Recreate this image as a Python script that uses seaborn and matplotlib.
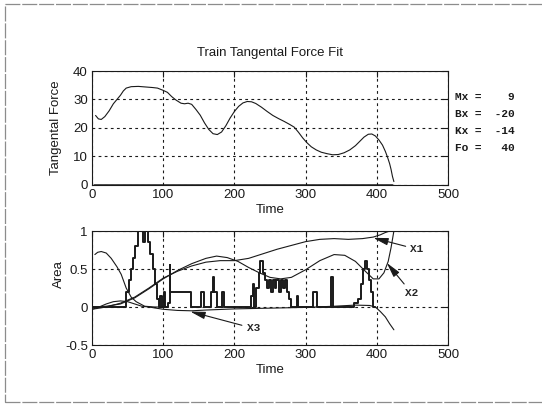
import matplotlib
matplotlib.use("Agg")
import matplotlib.pyplot as plt
import seaborn as sns
from matplotlib.patches import Rectangle

# ---------------- data ----------------
force_t = [5, 9, 13, 18, 24, 30, 36, 40, 44, 48, 55, 65, 75, 85, 92, 100, 106, 112, 118,
           125, 130, 135, 140, 146, 152, 158, 164, 170, 176, 182, 188, 194, 200, 206, 212,
           218, 224, 230, 238, 246, 254, 262, 270, 278, 284, 290, 296, 302, 308, 315, 322,
           330, 338, 346, 354, 362, 370, 376, 382, 388, 393, 398, 403, 408, 412, 415, 418,
           420, 422, 424]
force_v = [24.4, 23.2, 23.0, 24.0, 26.0, 28.5, 30.3, 31.5, 33.0, 34.0, 34.5, 34.6, 34.4,
           34.2, 34.0, 33.2, 32.5, 31.0, 29.8, 28.7, 28.5, 28.7, 28.3, 26.5, 24.5, 21.8,
           19.5, 18.0, 17.7, 18.6, 20.8, 23.5, 25.8, 27.6, 28.8, 29.3, 29.2, 28.6, 27.3,
           25.8, 24.4, 23.3, 22.3, 21.2, 20.3, 18.5, 16.5, 14.8, 13.4, 12.3, 11.5, 11.0,
           10.6, 10.7, 11.3, 12.3, 13.8, 15.3, 16.8, 17.8, 17.9, 17.2, 15.8, 14.0, 11.8,
           9.8, 7.5, 5.5, 3.0, 1.2]
force_base_t = [3, 422]
force_base_v = [0, 0]

x1_t = [0, 20, 40, 60, 80, 100, 120, 140, 160, 180, 200, 220, 240, 260, 280, 300, 320,
        340, 360, 380, 395, 405, 412, 418]
x1_v = [-0.03, 0.0, 0.05, 0.13, 0.25, 0.38, 0.47, 0.54, 0.59, 0.61, 0.61, 0.64, 0.70,
        0.76, 0.81, 0.86, 0.89, 0.90, 0.89, 0.90, 0.92, 0.95, 0.98, 1.0]

x2_t = [0, 20, 40, 60, 80, 100, 120, 140, 160, 175, 190, 205, 220, 235, 250, 265, 280,
        300, 320, 340, 355, 370, 385, 395, 403, 410, 416, 420, 424]
x2_v = [0.0, 0.01, 0.04, 0.12, 0.24, 0.37, 0.48, 0.57, 0.64, 0.67, 0.65, 0.60, 0.52,
        0.45, 0.39, 0.37, 0.39, 0.49, 0.61, 0.69, 0.68, 0.60, 0.46, 0.37, 0.37, 0.45,
        0.60, 0.78, 1.0]

x3_t = [0, 10, 20, 30, 40, 50, 60, 70, 80, 100, 120, 140, 160, 200, 250, 300, 340, 370,
        390, 398, 405, 412, 418, 424]
x3_v = [-0.03, 0.0, 0.04, 0.07, 0.08, 0.07, 0.04, 0.01, 0.0, -0.03, -0.045, -0.05,
        -0.04, -0.025, -0.015, -0.005, 0.01, 0.025, 0.02, 0.0, -0.06, -0.13, -0.22, -0.30]

x0_t = [4, 8, 13, 20, 27, 35, 41, 48, 55, 62, 74, 88, 100]
x0_v = [0.69, 0.72, 0.73, 0.71, 0.64, 0.53, 0.43, 0.25, 0.13, 0.07, 0.01, 0.0, 0.0]

area_t = [0, 48, 52, 55, 58, 61, 64, 72, 74, 79, 82, 85, 88, 91, 94, 96, 98, 101, 103,
          107, 109, 110, 139, 153, 158, 167, 170, 172, 175, 182, 186, 224, 226, 228, 231,
          234, 236, 240, 243, 246, 248, 251, 254, 257, 259, 262, 265, 268, 271, 274, 277,
          280, 288, 290, 310, 316, 336, 338, 368, 374, 378, 381, 383, 386, 389, 392, 395,
          398]
area_v = [0, 0.2, 0.35, 0.5, 0.65, 0.8, 1.0, 0.85, 1.0, 0.85, 0.7, 0.5, 0.3, 0.1, 0,
          0.15, 0, 0.2, 0, 0.05, 0.55, 0.2, 0, 0.2, 0, 0.2, 0.4, 0.2, 0, 0.2, 0, 0.15,
          0.3, 0, 0.25, 0.45, 0.6, 0.45, 0.35, 0.25, 0.35, 0.2, 0.35, 0.25, 0.35, 0.2,
          0.35, 0.25, 0.35, 0.2, 0.1, 0, 0.15, 0, 0.2, 0, 0.4, 0, 0.05, 0.1, 0.3, 0.5,
          0.6, 0.5, 0.35, 0.2, 0, 0]

param_names = ["Mx", "Bx", "Kx", "Fo"]
param_values = [9, -20, -14, 40]

x_ticks = [0, 100, 200, 300, 400, 500]
force_ticks = [0, 10, 20, 30, 40]
area_ticks = [-0.5, 0, 0.5, 1]
area_tick_labels = ["-0.5", "0", "0.5", "1"]

# ---------------- style ----------------
sns.set_theme(style="white")
plt.rcParams["font.family"] = ["Liberation Sans", "DejaVu Sans"]
plt.rcParams["axes.unicode_minus"] = False

W, H = 542, 404
fig = plt.figure(figsize=(W / 100, H / 100), dpi=100)
fig.patch.set_facecolor("white")

ax1 = fig.add_axes([92 / W, 1 - 185 / H, 356 / W, 114 / H])
ax2 = fig.add_axes([92 / W, 1 - 345 / H, 356 / W, 114 / H])

for ax in (ax1, ax2):
    ax.set_facecolor("white")
    for s in ax.spines.values():
        s.set_color("k")
        s.set_linewidth(0.8)
    ax.tick_params(direction="in", top=True, right=True, length=4, width=0.8,
                   labelsize=9.5, colors="k", pad=3)
    ax.grid(True, color="k", linestyle=(0, (2.5, 3)), linewidth=0.8)

# top panel
sns.lineplot(x=force_t, y=force_v, ax=ax1, color="k", linewidth=0.8, estimator=None)
sns.lineplot(x=force_base_t, y=force_base_v, ax=ax1, color="k", linewidth=1.8,
             estimator=None)
ax1.set_ylim(0, 40)
ax1.set_yticks(force_ticks)
ax1.set_yticklabels([str(v) for v in force_ticks])
ax1.set_xlabel("Time", fontsize=9.5, color="k", labelpad=2)
ax1.set_ylabel("Tangental Force", fontsize=9.5, color="k")
ax1.yaxis.set_label_coords(-0.084, 0.5)

# bottom panel
sns.lineplot(x=area_t, y=area_v, ax=ax2, color="k", linewidth=1.4, estimator=None,
             drawstyle="steps-post")
for tt, vv in ((x0_t, x0_v), (x1_t, x1_v), (x2_t, x2_v), (x3_t, x3_v)):
    sns.lineplot(x=tt, y=vv, ax=ax2, color="k", linewidth=0.8, estimator=None)
ax2.set_ylim(-0.5, 1)
ax2.set_yticks(area_ticks)
ax2.set_yticklabels(area_tick_labels)
ax2.set_xlabel("Time", fontsize=9.5, color="k", labelpad=2)
ax2.set_ylabel("Area", fontsize=9.5, color="k")
ax2.yaxis.set_label_coords(-0.075, 0.62)

arrow_kw = dict(arrowstyle="-|>,head_length=0.9,head_width=0.22", color="k", lw=0.8,
                shrinkA=1, shrinkB=0, mutation_scale=10)
lab_kw = dict(fontfamily="Liberation Mono", fontweight="bold", fontsize=8,
              va="center", ha="left", annotation_clip=False)
ax2.annotate("X1", xy=(395, 0.91), xytext=(447, 0.76), arrowprops=arrow_kw, **lab_kw)
ax2.annotate("X2", xy=(414, 0.58), xytext=(440, 0.18), arrowprops=arrow_kw, **lab_kw)
ax2.annotate("X3", xy=(138, -0.06), xytext=(217, -0.28), arrowprops=arrow_kw, **lab_kw)

for ax in (ax1, ax2):
    ax.set_xlim(0, 500)
    ax.set_xticks(x_ticks)
    ax.set_xticklabels([str(v) for v in x_ticks])

# title and parameter text
fig.text(270 / W, 1 - 53 / H, "Train Tangental Force Fit", ha="center", va="center",
         fontsize=9.5, color="k")
ys = [97, 114, 131, 148]
for name, val, y in zip(param_names, param_values, ys):
    fig.text(455 / W, 1 - y / H, f"{name} = {val:4d}", ha="left", va="center",
             fontfamily="Liberation Mono", fontweight="bold", fontsize=8, color="k")

# scanned page border
fig.patches.append(Rectangle((5 / W, 2 / H), 1.2, (402 - 4) / H, transform=fig.transFigure,
                             fill=False, edgecolor="0.55", linewidth=0.9,
                             linestyle=(0, (12, 1.5))))

fig.savefig("out.png", dpi=100, facecolor="white")
